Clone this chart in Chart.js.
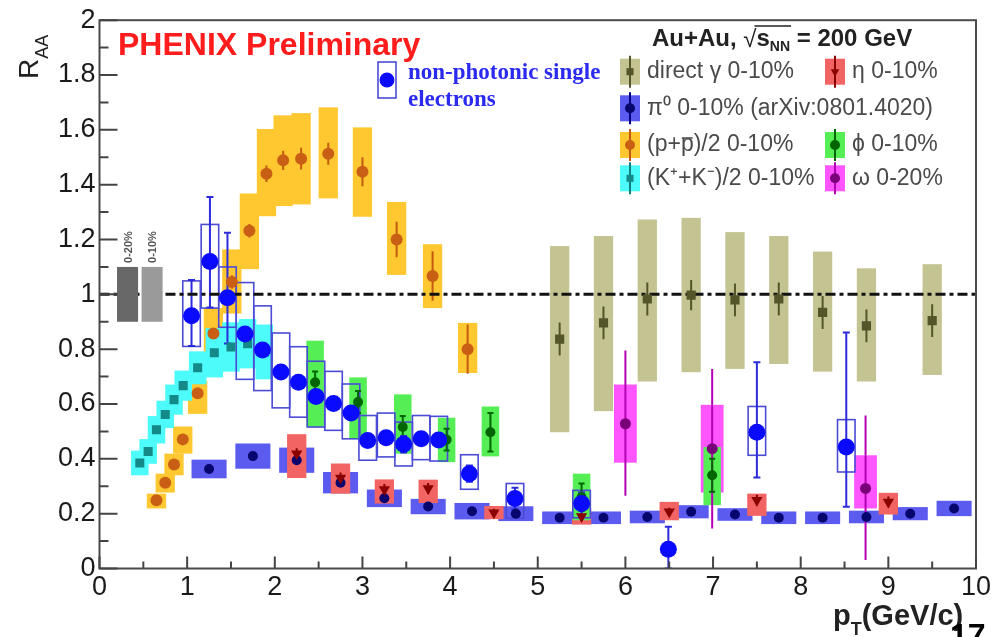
<!DOCTYPE html>
<html><head><meta charset="utf-8">
<script src="https://cdn.jsdelivr.net/npm/chart.js@4.4.1/dist/chart.umd.min.js"></script>
<style>html,body{margin:0;padding:0;background:#fff;}#wrap{width:996px;height:637px;position:relative;}</style>
</head><body><div id="wrap"><canvas id="c"></canvas></div>
<script>
// ---------------- axis ranges / ticks ----------------
const X_MIN = 0, X_MAX = 10, X_STEP = 1, X_MINOR = 0.5;
const Y_MIN = 0, Y_MAX = 2, Y_STEP = 0.2, Y_MINOR = 0.1;
const REF_LINE_Y = 1;

// ---------------- non-photonic single electrons ----------------
const ELEC_X = [1.05,1.26,1.46,1.66,1.86,2.07,2.27,2.47,2.67,2.87,3.06,3.27,3.47,3.67,3.87,4.22,4.74,5.50,6.49,7.50,8.52];
const ELEC_Y = [0.922,1.12,0.988,0.855,0.797,0.717,0.679,0.627,0.602,0.567,0.467,0.477,0.453,0.473,0.469,0.346,0.255,0.237,0.070,0.497,0.443];
const ELEC_ERR_LO = [0.11,0.168,0.167,0.02,0.02,0.02,0.02,0.02,0.02,0.02,0.02,0.02,0.03,0.02,0.02,0.03,0.04,0.04,0.07,0.165,0.218];
const ELEC_ERR_HI = [0.13,0.235,0.237,0.02,0.02,0.02,0.02,0.02,0.02,0.02,0.02,0.02,0.03,0.02,0.02,0.03,0.04,0.04,0.082,0.255,0.418];
const ELEC_SYS_LO = [0.81,0.95,0.88,0.69,0.649,0.586,0.552,0.516,0.504,0.473,0.395,0.407,0.374,0.397,0.392,0.289,0.183,0.185,null,0.413,0.352];
const ELEC_SYS_HI = [1.049,1.255,1.10,1.043,0.958,0.859,0.809,0.756,0.719,0.673,0.558,0.567,0.534,0.558,0.555,0.415,0.31,0.285,null,0.591,0.543];

// ---------------- pi0 0-10% ----------------
const PI0_X = [1.25,1.75,2.25,2.75,3.25,3.75,4.25,4.75,5.25,5.75,6.25,6.75,7.25,7.75,8.25,8.75,9.25,9.75];
const PI0_Y = [0.363,0.41,0.395,0.313,0.256,0.226,0.209,0.20,0.185,0.185,0.188,0.207,0.197,0.185,0.185,0.188,0.20,0.219];
const PI0_SYS = [0.034,0.046,0.046,0.039,0.032,0.028,0.03,0.027,0.023,0.023,0.023,0.024,0.023,0.023,0.023,0.023,0.024,0.028];

// ---------------- direct gamma 0-10% ----------------
const GAMMA_X = [5.25,5.75,6.25,6.75,7.25,7.75,8.25,8.75,9.5];
const GAMMA_Y = [0.837,0.896,0.983,0.997,0.98,0.983,0.934,0.885,0.904];
const GAMMA_ERR = [0.06,0.06,0.06,0.055,0.06,0.06,0.06,0.06,0.06];
const GAMMA_SYS_LO = [0.497,0.574,0.682,0.716,0.728,0.746,0.718,0.682,0.706];
const GAMMA_SYS_HI = [1.176,1.213,1.273,1.279,1.227,1.213,1.156,1.095,1.11];

// ---------------- (p+pbar)/2 0-10% ----------------
const P_X = [0.65,0.75,0.85,0.95,1.12,1.30,1.51,1.71,1.905,2.095,2.30,2.61,3.0,3.39,3.80,4.20];
const P_Y = [0.249,0.313,0.379,0.471,0.639,0.857,1.045,1.232,1.44,1.489,1.495,1.513,1.447,1.20,1.067,0.80];
const P_ERR = [0.01,0.01,0.01,0.015,0.015,0.02,0.025,0.025,0.03,0.035,0.04,0.04,0.053,0.065,0.09,0.09];
const P_SYS_LO = [0.219,0.277,0.34,0.419,0.564,0.76,0.93,1.092,1.285,1.322,1.328,1.35,1.283,1.071,0.95,0.713];
const P_SYS_HI = [0.273,0.346,0.419,0.518,0.685,0.95,1.164,1.368,1.603,1.653,1.661,1.682,1.609,1.337,1.183,0.896];

// ---------------- (K+ + K-)/2 0-10% ----------------
const K_X = [0.46,0.555,0.65,0.75,0.85,0.955,1.12,1.31,1.50,1.69,1.88];
const K_Y = [0.385,0.427,0.506,0.562,0.616,0.667,0.732,0.787,0.808,0.82,0.79];
const K_SYS = [0.045,0.045,0.05,0.05,0.055,0.055,0.06,0.09,0.09,0.09,0.1];

// ---------------- eta 0-10% ----------------
const ETA_X = [2.25,2.75,3.25,3.75,4.5,5.5,6.5,7.5,9.0];
const ETA_Y = [0.419,0.33,0.288,0.292,0.203,0.19,0.207,0.249,0.243];
const ETA_ERR = [0.02,0.02,0.02,0.02,0.015,0.015,0.015,0.02,0.02];
const ETA_SYS_LO = [0.33,0.273,0.237,0.239,0.18,0.16,0.176,0.192,0.197];
const ETA_SYS_HI = [0.49,0.383,0.325,0.324,0.228,0.22,0.243,0.273,0.276];

// ---------------- phi 0-10% ----------------
const PHI_X = [2.46,2.95,3.46,3.96,4.46,5.5,6.99];
const PHI_Y = [0.679,0.607,0.516,0.47,0.497,0.26,0.34];
const PHI_ERR = [0.04,0.04,0.04,0.04,0.07,0.05,0.06];
const PHI_SYS_LO = [0.516,0.473,0.419,0.388,0.409,0.176,0.231];
const PHI_SYS_HI = [0.831,0.697,0.635,0.55,0.591,0.346,0.443];

// ---------------- omega 0-20% ----------------
const OMEGA_X = [6.0,6.99,8.74];
const OMEGA_Y = [0.528,0.437,0.292];
const OMEGA_ERR_LO = [0.265,0.146,0.031];
const OMEGA_ERR_HI = [0.795,0.728,0.558];
const OMEGA_SYS_LO = [0.386,0.277,0.219];
const OMEGA_SYS_HI = [0.671,0.597,0.413];

// ---------------- normalisation uncertainty boxes ----------------
const NORM_X = [0.32, 0.60];
const NORM_LO = [0.9, 0.9];
const NORM_HI = [1.1, 1.1];
const NORM_LABELS = ['0-20%', '0-10%'];

// ---------------- helpers building tables from the arrays ----------------
const sub = (a, b) => a.map((v, i) => v - b[i]);
const add = (a, b) => a.map((v, i) => v + b[i]);
const pts = (xs, ys) => xs.map((v, i) => ({x: v, y: ys[i]}));

const SANS = "'Liberation Sans', Arial, Helvetica, sans-serif";
const SERIF = "'Liberation Serif', 'Times New Roman', serif";

const SERIES = {
  gamma: {x: GAMMA_X, y: GAMMA_Y, lo: sub(GAMMA_Y, GAMMA_ERR), hi: add(GAMMA_Y, GAMMA_ERR), sLo: GAMMA_SYS_LO, sHi: GAMMA_SYS_HI,
          hw: 0.11, fill: '#c4c493', err: '#55552a', ew: 2, cap: 0, ps: 'rect', pr: 6.5, pc: '#55552a', rot: 0},
  pi0:   {x: PI0_X, y: PI0_Y, lo: null, hi: null, sLo: sub(PI0_Y, PI0_SYS), sHi: add(PI0_Y, PI0_SYS),
          hw: 0.2, fill: '#5b5bf0', err: '#000080', ew: 2, cap: 0, ps: 'circle', pr: 5, pc: '#06066e', rot: 0},
  eta:   {x: ETA_X, y: ETA_Y, lo: sub(ETA_Y, ETA_ERR), hi: add(ETA_Y, ETA_ERR), sLo: ETA_SYS_LO, sHi: ETA_SYS_HI,
          hw: 0.11, fill: '#f26464', err: '#8a0000', ew: 2, cap: 0, ps: 'triangle', pr: 6.5, pc: '#8a0000', rot: 180},
  p:     {x: P_X, y: P_Y, lo: sub(P_Y, P_ERR), hi: add(P_Y, P_ERR), sLo: P_SYS_LO, sHi: P_SYS_HI,
          hw: 0.11, fill: '#ffc830', err: '#c45a10', ew: 2, cap: 0, ps: 'circle', pr: 6, pc: '#c85f14', rot: 0},
  k:     {x: K_X, y: K_Y, lo: null, hi: null, sLo: sub(K_Y, K_SYS), sHi: add(K_Y, K_SYS),
          hw: 0.1, fill: '#4dfbfb', err: '#108080', ew: 2, cap: 0, ps: 'rect', pr: 6.4, pc: '#138a88', rot: 0},
  omega: {x: OMEGA_X, y: OMEGA_Y, lo: OMEGA_ERR_LO, hi: OMEGA_ERR_HI, sLo: OMEGA_SYS_LO, sHi: OMEGA_SYS_HI,
          hw: 0.13, fill: '#ff55ff', err: '#b400b4', ew: 2, cap: 0, ps: 'circle', pr: 5.5, pc: '#7a007a', rot: 0},
  phi:   {x: PHI_X, y: PHI_Y, lo: sub(PHI_Y, PHI_ERR), hi: add(PHI_Y, PHI_ERR), sLo: PHI_SYS_LO, sHi: PHI_SYS_HI,
          hw: 0.1, fill: '#55ee55', err: '#006600', ew: 2, cap: 3, ps: 'circle', pr: 5, pc: '#006400', rot: 0},
  elec:  {x: ELEC_X, y: ELEC_Y, lo: sub(ELEC_Y, ELEC_ERR_LO), hi: add(ELEC_Y, ELEC_ERR_HI), sLo: ELEC_SYS_LO, sHi: ELEC_SYS_HI,
          hw: 0.1, fill: null, stroke: '#4b4bd6', err: '#2b2bdc', ew: 2, cap: 3.5, ps: 'circle', pr: 8.5, pc: '#0a0aff', rot: 0}
};
const BOX_ORDER = ['gamma','pi0','eta','p','k','omega','phi','elec'];
const POINT_ORDER = ['elec','phi','omega','eta','k','p','pi0','gamma']; // first = on top

const datasets = POINT_ORDER.map(k => {
  const s = SERIES[k];
  return {label: k, data: pts(s.x, s.y), pointStyle: s.ps, pointRadius: s.pr, pointRotation: s.rot,
          backgroundColor: s.pc, borderColor: s.pc, borderWidth: 0, showLine: false};
});

function drawMarker(ctx, style, x, y, r, color, rot) {
  ctx.fillStyle = color;
  ctx.beginPath();
  if (style === 'circle') ctx.arc(x, y, r, 0, Math.PI * 2);
  else if (style === 'rect') { const h = r * Math.SQRT1_2; ctx.rect(x - h, y - h, 2 * h, 2 * h); }
  else if (style === 'triangle') {
    const d = rot === 180 ? -1 : 1;
    ctx.moveTo(x, y - d * r); ctx.lineTo(x - r * 0.866, y + d * r * 0.5); ctx.lineTo(x + r * 0.866, y + d * r * 0.5); ctx.closePath();
  }
  ctx.fill();
}

const physicsPlugin = {
  id: 'physics',
  beforeDatasetsDraw(chart) {
    const {ctx, chartArea: a, scales: {x: X, y: Y}} = chart;
    ctx.save();
    ctx.beginPath(); ctx.rect(a.left, a.top, a.right - a.left, a.bottom - a.top); ctx.clip();
    for (const k of BOX_ORDER) {
      const s = SERIES[k];
      s.x.forEach((xv, i) => {
        if (s.sLo[i] == null) return;
        const x0 = X.getPixelForValue(xv - s.hw), x1 = X.getPixelForValue(xv + s.hw);
        const y0 = Y.getPixelForValue(s.sHi[i]), y1 = Y.getPixelForValue(s.sLo[i]);
        if (s.fill) { ctx.fillStyle = s.fill; ctx.fillRect(x0, y0, x1 - x0, y1 - y0); }
        else { ctx.strokeStyle = s.stroke; ctx.lineWidth = 1.6; ctx.strokeRect(x0, y0, x1 - x0, y1 - y0); }
      });
    }
    for (const k of BOX_ORDER) {
      const s = SERIES[k];
      if (!s.lo) continue;
      ctx.strokeStyle = s.err; ctx.lineWidth = s.ew;
      s.x.forEach((xv, i) => {
        const px = X.getPixelForValue(xv);
        const yl = Y.getPixelForValue(s.lo[i]), yh = Y.getPixelForValue(s.hi[i]);
        ctx.beginPath(); ctx.moveTo(px, yl); ctx.lineTo(px, yh);
        if (s.cap) { ctx.moveTo(px - s.cap, yl); ctx.lineTo(px + s.cap, yl); ctx.moveTo(px - s.cap, yh); ctx.lineTo(px + s.cap, yh); }
        ctx.stroke();
      });
    }
    const yr = Y.getPixelForValue(REF_LINE_Y);
    ctx.strokeStyle = '#111'; ctx.lineWidth = 3; ctx.setLineDash([10, 4, 4, 4]);
    ctx.beginPath(); ctx.moveTo(X.getPixelForValue(X_MIN), yr); ctx.lineTo(X.getPixelForValue(X_MAX), yr); ctx.stroke();
    ctx.setLineDash([]);
    const normCols = ['#686868', '#9a9a9a'];
    NORM_X.forEach((xv, i) => {
      const x0 = X.getPixelForValue(xv - 0.12), x1 = X.getPixelForValue(xv + 0.12);
      const y0 = Y.getPixelForValue(NORM_HI[i]), y1 = Y.getPixelForValue(NORM_LO[i]);
      ctx.fillStyle = normCols[i]; ctx.fillRect(x0, y0, x1 - x0, y1 - y0);
      ctx.save();
      ctx.translate((x0 + x1) / 2 + 4, y0 - 4); ctx.rotate(-Math.PI / 2);
      ctx.fillStyle = '#555'; ctx.font = 'bold 11px ' + SANS; ctx.textBaseline = 'alphabetic';
      ctx.fillText(NORM_LABELS[i], 0, 0);
      ctx.restore();
    });
    ctx.restore();
  },
  afterDraw(chart) {
    const {ctx, chartArea: a, scales: {x: X, y: Y}} = chart;
    ctx.save();
    ctx.strokeStyle = '#4a4a4a'; ctx.lineWidth = 2;
    ctx.strokeRect(a.left, a.top, a.right - a.left, a.bottom - a.top);
    ctx.lineWidth = 2; ctx.strokeStyle = '#444';
    ctx.beginPath();
    for (let v = X_MIN; v <= X_MAX + 1e-9; v += X_MINOR) {
      const px = X.getPixelForValue(v);
      const major = Math.abs(v / X_STEP - Math.round(v / X_STEP)) < 1e-6;
      ctx.moveTo(px, a.bottom); ctx.lineTo(px, a.bottom - (major ? 12 : 7));
    }
    for (let v = Y_MIN; v <= Y_MAX + 1e-9; v += Y_MINOR) {
      const py = Y.getPixelForValue(v);
      const major = Math.abs(v / Y_STEP - Math.round(v / Y_STEP)) < 1e-6;
      ctx.moveTo(a.left, py); ctx.lineTo(a.left + (major ? 18 : 9), py);
    }
    ctx.stroke();

    ctx.fillStyle = '#ff1c1c'; ctx.font = 'bold 32px ' + SANS; ctx.textBaseline = 'alphabetic';
    ctx.fillText('PHENIX Preliminary', 118, 55);

    ctx.save();
    ctx.translate(38, 79); ctx.rotate(-Math.PI / 2);
    ctx.fillStyle = '#222'; ctx.font = '28px ' + SANS;
    ctx.fillText('R', 0, 0);
    const rw = ctx.measureText('R').width;
    ctx.font = '18px ' + SANS; ctx.fillText('AA', rw, 10);
    ctx.restore();

    ctx.fillStyle = '#222'; ctx.font = 'bold 29px ' + SANS;
    let xx = 833;
    ctx.fillText('p', xx, 625); xx += ctx.measureText('p').width;
    ctx.font = 'bold 18px ' + SANS; ctx.fillText('T', xx, 635); xx += ctx.measureText('T').width;
    ctx.font = 'bold 29px ' + SANS; ctx.fillText('(GeV/c)', xx, 625);

    ctx.fillStyle = '#000'; ctx.font = 'bold 32px ' + SANS;
    ctx.fillText('17', 950, 646);

    ctx.fillStyle = '#222'; ctx.font = 'bold 24px ' + SANS;
    let hx = 652; const hy = 46;
    ctx.fillText('Au+Au, ', hx, hy); hx += ctx.measureText('Au+Au, ').width;
    ctx.font = '24px ' + SANS; ctx.fillText('\u221A', hx, hy + 1); const sq = ctx.measureText('\u221A').width; hx += sq;
    const ovStart = hx - 2;
    ctx.font = 'bold 24px ' + SANS; ctx.fillText('s', hx, hy); hx += ctx.measureText('s').width;
    ctx.font = 'bold 14px ' + SANS; ctx.fillText('NN', hx, hy + 5); hx += ctx.measureText('NN').width;
    ctx.strokeStyle = '#222'; ctx.lineWidth = 1.6; ctx.beginPath(); ctx.moveTo(ovStart, hy - 20); ctx.lineTo(hx + 1, hy - 20); ctx.stroke();
    ctx.font = 'bold 24px ' + SANS; ctx.fillText(' = 200 GeV', hx, hy);

    const rows = [71.7, 108.3, 145, 178.3];
    const col = [{sx: 630, tx: 647}, {sx: 835, tx: 852}];
    const entries = [
      {k: 'gamma', c: 0, r: 0}, {k: 'eta', c: 1, r: 0}, {k: 'pi0', c: 0, r: 1},
      {k: 'p', c: 0, r: 2}, {k: 'phi', c: 1, r: 2}, {k: 'k', c: 0, r: 3}, {k: 'omega', c: 1, r: 3}
    ];
    for (const e of entries) {
      const s = SERIES[e.k]; const cx = col[e.c].sx, cy = rows[e.r];
      ctx.fillStyle = s.fill; ctx.fillRect(cx - 10, cy - 13, 20, 26);
      ctx.strokeStyle = s.err; ctx.lineWidth = 2; ctx.beginPath(); ctx.moveTo(cx, cy - 16); ctx.lineTo(cx, cy + 16); ctx.stroke();
      drawMarker(ctx, s.ps, cx, cy, 5, s.pc, s.rot);
    }
    ctx.fillStyle = '#4a4a4a'; ctx.textBaseline = 'middle';
    ctx.font = '23px ' + SANS;
    ctx.fillText('direct \u03B3 0-10%', 647, rows[0]);
    ctx.fillText('\u03B7 0-10%', 852, rows[0]);
    ctx.fillText('\u03C0\u2070 0-10% (arXiv:0801.4020)', 647, rows[1]);
    let lx = 647;
    ctx.fillText('(p+', lx, rows[2]); lx += ctx.measureText('(p+').width;
    const pw = ctx.measureText('p').width;
    ctx.fillText('p', lx, rows[2]);
    ctx.strokeStyle = '#4a4a4a'; ctx.lineWidth = 1.5; ctx.beginPath(); ctx.moveTo(lx + 1, rows[2] - 7); ctx.lineTo(lx + pw - 1, rows[2] - 7); ctx.stroke();
    lx += pw; ctx.fillText(')/2 0-10%', lx, rows[2]);
    ctx.fillText('\u03D5 0-10%', 852, rows[2]);
    ctx.fillText('(K\u207A+K\u207B)/2 0-10%', 647, rows[3]);
    ctx.fillText('\u03C9 0-20%', 852, rows[3]);

    const ex = 387, ey = 80;
    ctx.strokeStyle = SERIES.elec.stroke; ctx.lineWidth = 1.6; ctx.strokeRect(ex - 9, ey - 18, 18, 36);
    drawMarker(ctx, 'circle', ex, ey, 7.5, SERIES.elec.pc, 0);
    ctx.fillStyle = '#2a2af0'; ctx.font = 'bold 23px ' + SERIF; ctx.textBaseline = 'middle';
    ctx.fillText('non-photonic single', 408, 73);
    ctx.fillText('electrons', 408, 100);
    ctx.restore();
  }
};

const tickFmt = v => String(Number(Number(v).toFixed(1)));

new Chart(document.getElementById('c'), {
  type: 'scatter',
  data: {datasets},
  options: {
    responsive: true, maintainAspectRatio: false, animation: false,
    layout: {padding: {top: 18.5, right: 20, left: 0, bottom: 0}},
    plugins: {legend: {display: false}, tooltip: {enabled: false}},
    scales: {
      x: {type: 'linear', min: X_MIN, max: X_MAX,
          ticks: {stepSize: X_STEP, color: '#1a1a1a', font: {family: SANS, size: 27}, padding: 3, maxRotation: 0, callback: tickFmt},
          grid: {display: false, drawTicks: false}, border: {display: false},
          afterFit: s => { s.height = 637 - 568.5; }},
      y: {type: 'linear', min: Y_MIN, max: Y_MAX,
          ticks: {stepSize: Y_STEP, color: '#1a1a1a', font: {family: SANS, size: 27}, padding: 4, callback: tickFmt},
          grid: {display: false, drawTicks: false}, border: {display: false},
          afterFit: s => { s.width = 99.5; }}
    }
  },
  plugins: [physicsPlugin]
});
</script></body></html>
